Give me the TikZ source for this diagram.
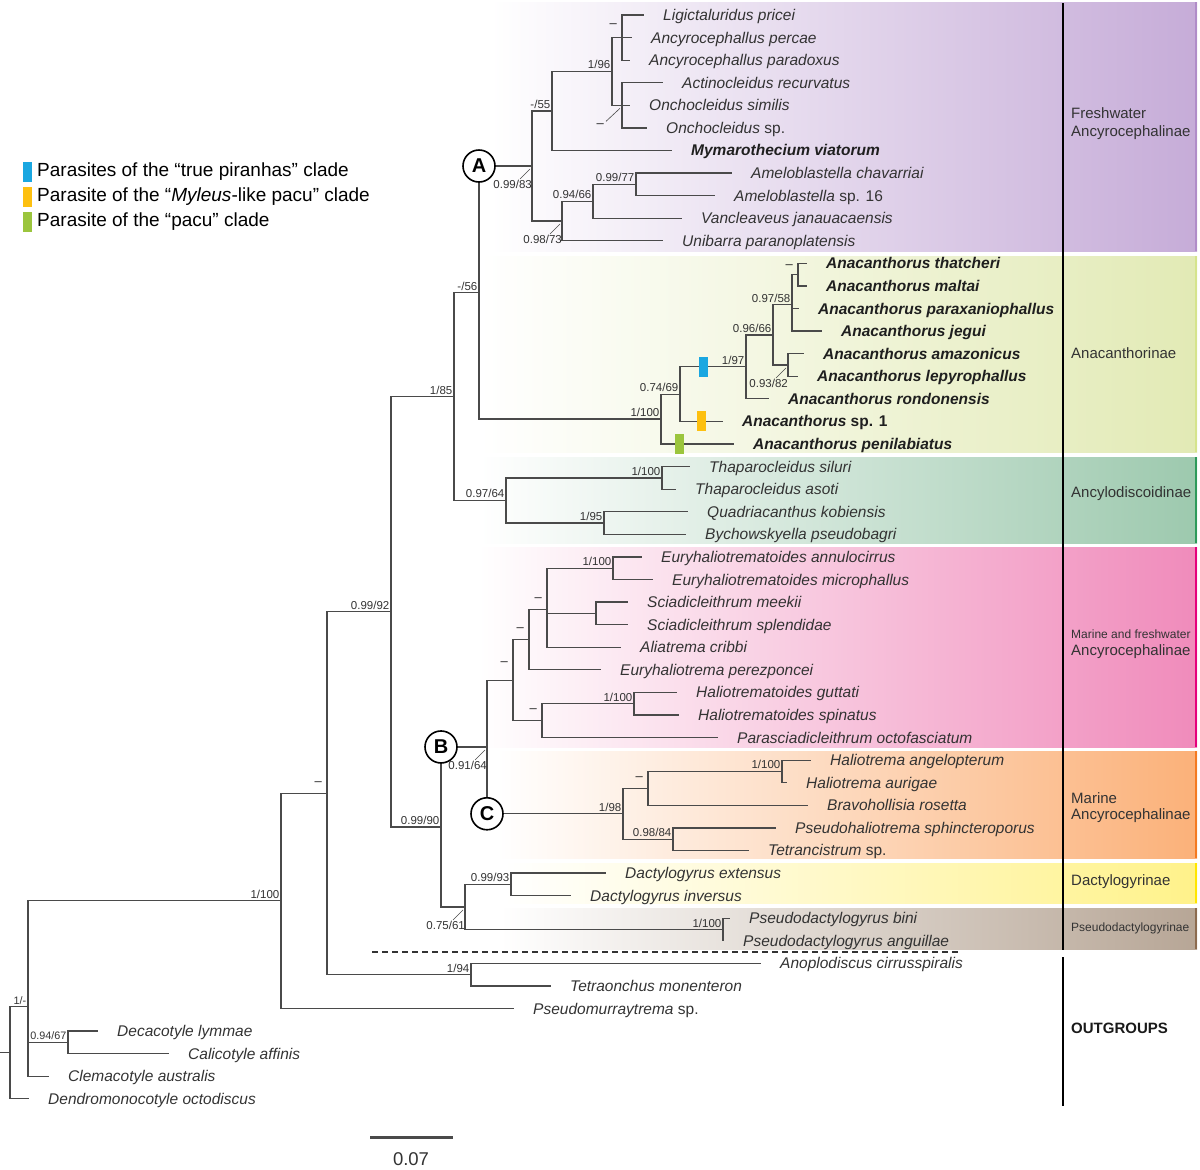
\documentclass[tikz,border=0pt]{standalone}
\usepackage{fontspec}
\setmainfont{Liberation Sans}
\usetikzlibrary{calc}
\definecolor{treeline}{HTML}{4A4A4A}
\definecolor{txt}{HTML}{333333}
\definecolor{purR}{HTML}{C6ACD8}
\definecolor{purE}{HTML}{B08CC8}
\definecolor{limR}{HTML}{E2EAB5}
\definecolor{limE}{HTML}{D5E48C}
\definecolor{tealR}{HTML}{9DC9AE}
\definecolor{tealE}{HTML}{2E9A5A}
\definecolor{pinkR}{HTML}{F08BBB}
\definecolor{pinkE}{HTML}{E5007D}
\definecolor{oraR}{HTML}{FBB179}
\definecolor{oraE}{HTML}{F47A20}
\definecolor{yelR}{HTML}{FFF28A}
\definecolor{yelE}{HTML}{FFE600}
\definecolor{broR}{HTML}{B7A696}
\definecolor{broE}{HTML}{8C6B4F}
\definecolor{mkblue}{HTML}{1AA7E1}
\definecolor{mkorange}{HTML}{FDC010}
\definecolor{mkgreen}{HTML}{9BC53D}
\tikzset{
  br/.style={draw=treeline, line width=1.25pt},
  leafname/.style={anchor=base west, yshift=-5.5pt, inner sep=0pt, text=txt,
    font=\fontsize{15.5}{18}\selectfont\itshape},
  boldleaf/.style={leafname, text=black!88, font=\fontsize{15.5}{18}\selectfont\bfseries\itshape},
  supbase/.style={inner sep=0pt, text=txt, font=\fontsize{11.5}{13}\selectfont},
  supp/.style={supbase, anchor=base east, xshift=-1.5pt, yshift=2.5pt},
  supb/.style={supbase, anchor=north east},
  dashlab/.style={inner sep=0pt, anchor=east, text=black!85, font=\fontsize{13}{14}\selectfont},
  leader/.style={draw=treeline, line width=0.6pt},
  circ/.style={circle, draw=black, line width=1.6pt, fill=white, minimum size=32pt,
    inner sep=0pt, font=\fontsize{20}{22}\selectfont\bfseries},
  mkbar/.style={rectangle, minimum width=9pt, minimum height=20pt, inner sep=0pt, draw=none},
  grp/.style={anchor=west, inner sep=0pt, text=txt, font=\fontsize{15}{17}\selectfont},
  grpsmall/.style={anchor=west, inner sep=0pt, text=txt, font=\fontsize{12}{14}\selectfont},
  legtext/.style={anchor=west, inner sep=0pt, text=black, font=\fontsize{19}{21}\selectfont},
}
\newcommand\leafnode[5][leafname]{%
  \coordinate (#2) at (#3,{15+22.58*(#4)});
  \node[#1] (#2t) at ($(#2)+(19,0)$) {#5};}
\newcommand\supl[2]{\node[supp] (#1-l) at (#1) {#2};}
\newcommand\dashl[2][10]{\node[dashlab] (#2-l) at ($(#2)+(-5,-#1)$) {–};}
\newcommand\leadl[2]{\node[supb] (#1-l) at ($(#1)+(0,14)$) {#2};
  \draw[leader] ($(#1)+(-12,13)$) -- ($(#1)+(-2,3)$);}
\begin{document}
\begin{tikzpicture}[x=1pt,y=-1pt]
\useasboundingbox (0,0) rectangle (1200,1170);
% ---------- background bands ----------
\fill[left color=white, right color=purR] (490,2) rectangle (1197,251);
\fill[left color=white, right color=limR] (480,256) rectangle (1197,452);
\fill[left color=white, right color=tealR] (480,457) rectangle (1197,543);
\fill[left color=white, right color=pinkR] (478,547) rectangle (1197,747);
\fill[left color=white, right color=oraR] (497,751) rectangle (1197,858);
\fill[left color=white, right color=yelR] (505,863) rectangle (1197,903);
\fill[left color=white, right color=broR] (500,908) rectangle (1197,949);
\draw[purE, line width=2pt] (1196,2) -- (1196,251);
\draw[limE, line width=2pt] (1196,256) -- (1196,452);
\draw[tealE, line width=2pt] (1196,457) -- (1196,543);
\draw[pinkE, line width=2pt] (1196,547) -- (1196,747);
\draw[oraE, line width=2pt] (1196,751) -- (1196,858);
\draw[yelE, line width=2pt] (1196,863) -- (1196,903);
\draw[broE, line width=2pt] (1196,908) -- (1196,949);
% column separator
\coordinate (cs1) at (1063,3); \coordinate (cs2) at (1063,256);
\coordinate (cs3) at (1063,452); \coordinate (cs4) at (1063,950);
\coordinate (cs5) at (1063,957); \coordinate (cs6) at (1063,1106);
\draw[black, line width=1.3pt] (cs1) -- (cs2);
\draw[black, line width=2.6pt] (cs2) -- (cs3);
\draw[black, line width=1.3pt] (cs3) -- (cs4);
\draw[black, line width=1.3pt] (cs5) -- (cs6);
% ---------- leaves ----------
\leafnode{lig}{644}{0}{Ligictaluridus pricei}
\leafnode{perc}{632}{1}{Ancyrocephallus percae}
\leafnode{para}{630}{2}{Ancyrocephallus paradoxus}
\leafnode{actin}{663}{3}{Actinocleidus recurvatus}
\leafnode{osim}{630}{4}{Onchocleidus similis}
\leafnode{osp}{647}{5}{Onchocleidus\upshape\ sp.}
\leafnode[boldleaf]{mym}{672}{6}{Mymarothecium viatorum}
\leafnode{amch}{732}{7}{Ameloblastella chavarriai}
\leafnode{amsx}{715}{8}{Ameloblastella\upshape\ sp. 16}
\leafnode{vanc}{682}{9}{Vancleaveus janauacaensis}
\leafnode{unib}{663}{10}{Unibarra paranoplatensis}
\leafnode[boldleaf]{that}{807}{11}{Anacanthorus thatcheri}
\leafnode[boldleaf]{malt}{807}{12}{Anacanthorus maltai}
\leafnode[boldleaf]{parx}{799}{13}{Anacanthorus paraxaniophallus}
\leafnode[boldleaf]{jeg}{822}{14}{Anacanthorus jegui}
\leafnode[boldleaf]{amaz}{804}{15}{Anacanthorus amazonicus}
\leafnode[boldleaf]{lepy}{798}{16}{Anacanthorus lepyrophallus}
\leafnode[boldleaf]{rond}{769}{17}{Anacanthorus rondonensis}
\leafnode[boldleaf]{spone}{723}{18}{Anacanthorus\upshape\ sp. 1}
\leafnode[boldleaf]{peni}{734}{19}{Anacanthorus penilabiatus}
\leafnode{silu}{690}{20}{Thaparocleidus siluri}
\leafnode{asot}{676}{21}{Thaparocleidus asoti}
\leafnode{quad}{688}{22}{Quadriacanthus kobiensis}
\leafnode{bych}{686}{23}{Bychowskyella pseudobagri}
\leafnode{annu}{642}{24}{Euryhaliotrematoides annulocirrus}
\leafnode{micr}{653}{25}{Euryhaliotrematoides microphallus}
\leafnode{meek}{628}{26}{Sciadicleithrum meekii}
\leafnode{sple}{628}{27}{Sciadicleithrum splendidae}
\leafnode{crib}{621}{28}{Aliatrema cribbi}
\leafnode{pere}{601}{29}{Euryhaliotrema perezponcei}
\leafnode{gutt}{677}{30}{Haliotrematoides guttati}
\leafnode{spin}{679}{31}{Haliotrematoides spinatus}
\leafnode{octo}{718}{32}{Parasciadicleithrum octofasciatum}
\leafnode{ange}{811}{33}{Haliotrema angelopterum}
\leafnode{auri}{787}{34}{Haliotrema aurigae}
\leafnode{rose}{808}{35}{Bravohollisia rosetta}
\leafnode{sphi}{776}{36}{Pseudohaliotrema sphincteroporus}
\leafnode{tetr}{749}{37}{Tetrancistrum\upshape\ sp.}
\leafnode{dext}{606}{38}{Dactylogyrus extensus}
\leafnode{dinv}{571}{39}{Dactylogyrus inversus}
\leafnode{bini}{730}{40}{Pseudodactylogyrus bini}
\leafnode{angu}{724}{41}{Pseudodactylogyrus anguillae}
\leafnode{anop}{761}{42}{Anoplodiscus cirrusspiralis}
\leafnode{tetm}{551}{43}{Tetraonchus monenteron}
\leafnode{psmu}{514}{44}{Pseudomurraytrema\upshape\ sp.}
\leafnode{deca}{98}{45}{Decacotyle lymmae}
\leafnode{cali}{169}{46}{Calicotyle affinis}
\leafnode{clem}{49}{47}{Clemacotyle australis}
\leafnode{dend}{29}{48}{Dendromonocotyle octodiscus}
% ---------- internal nodes ----------
\coordinate (nLig) at (622,37.58);
\coordinate (nOnc) at (622,105.32);
\coordinate (n196) at (612,71.45);
\coordinate (n55) at (552,110.97);
\coordinate (nAm) at (636,184.35);
\coordinate (n9466) at (593,201.29);
\coordinate (n9873) at (562,221.05);
\coordinate (nA) at (532,166.01);
\coordinate (nTM) at (798,274.67);
\coordinate (n9758) at (792,304.78);
\coordinate (nAL) at (788,364.99);
\coordinate (n9666) at (773,334.89);
\coordinate (n197) at (746,366.87);
\coordinate (n7469) at (680,394.16);
\coordinate (n1100a) at (661,419.09);
\coordinate (n56) at (479,292.55);
\coordinate (nTh) at (662,477.89);
\coordinate (nQB) at (604,523.05);
\coordinate (n9764) at (506,500.47);
\coordinate (n185) at (454,396.51);
\coordinate (nEu) at (613,568.21);
\coordinate (nSc) at (596,613.37);
\coordinate (nPa) at (547,609.61);
\coordinate (nPb) at (529,639.72);
\coordinate (nHa) at (634,703.69);
\coordinate (nPc) at (542,720.63);
\coordinate (nMF) at (513,680.17);
\coordinate (nHl) at (782,771.43);
\coordinate (nPd) at (648,788.37);
\coordinate (n9884) at (673,839.17);
\coordinate (n198) at (623,813.77);
\coordinate (nB) at (487,746.97);
\coordinate (nDa) at (511,884.33);
\coordinate (nPs) at (723,929.49);
\coordinate (n7561) at (465,906.91);
\coordinate (n9990) at (441,826.94);
\coordinate (n9992) at (391,611.73);
\coordinate (n194) at (471,974.65);
\coordinate (nDash) at (327,793.19);
\coordinate (n1100b) at (281,900.86);
\coordinate (nDC) at (68,1042.39);
\coordinate (n1m) at (28,1006.5);
\coordinate (root) at (10,1052.67);
\coordinate (rootstub) at (0,1052.67);
% ---------- branches ----------
\foreach \p/\c in {nLig/lig,nLig/perc,nLig/para,nOnc/actin,nOnc/osim,nOnc/osp,
  n196/nLig,n196/nOnc,n55/n196,n55/mym,nAm/amch,nAm/amsx,n9466/nAm,n9466/vanc,
  n9873/n9466,n9873/unib,nA/n55,nA/n9873,n56/nA,n56/n1100a,
  nTM/that,nTM/malt,n9758/nTM,n9758/parx,n9758/jeg,nAL/amaz,nAL/lepy,
  n9666/n9758,n9666/nAL,n197/n9666,n197/rond,n7469/n197,n7469/spone,
  n1100a/n7469,n1100a/peni,nTh/silu,nTh/asot,nQB/quad,nQB/bych,
  n9764/nTh,n9764/nQB,n185/n56,n185/n9764,
  nEu/annu,nEu/micr,nSc/meek,nSc/sple,nPa/nEu,nPa/nSc,nPa/crib,nPb/nPa,nPb/pere,
  nHa/gutt,nHa/spin,nPc/nHa,nPc/octo,nMF/nPb,nMF/nPc,
  nHl/ange,nHl/auri,nPd/nHl,nPd/rose,n9884/sphi,n9884/tetr,n198/nPd,n198/n9884,
  nB/nMF,nB/n198,nDa/dext,nDa/dinv,nPs/bini,nPs/angu,n7561/nDa,n7561/nPs,
  n9990/nB,n9990/n7561,n9992/n185,n9992/n9990,n194/anop,n194/tetm,
  nDash/n9992,nDash/n194,n1100b/nDash,n1100b/psmu,nDC/deca,nDC/cali,
  n1m/n1100b,n1m/nDC,n1m/clem,root/n1m,root/dend}
  {\draw[br] (\p) |- (\c);}
\draw[br] (rootstub) -- (root);
% dashed separator
\coordinate (dsh1) at (372,952); \coordinate (dsh2) at (960,952);
\draw[black!80, line width=1.3pt, dash pattern=on 6pt off 4pt] (dsh1) -- (dsh2);
% ---------- support values ----------
\supl{n196}{1/96}
\supl{n55}{-/55}
\supl{nAm}{0.99/77}
\supl{n9466}{0.94/66}
\leadl{n9873}{0.98/73}
\leadl{nA}{0.99/83}
\dashl[12]{nLig}
\node[dashlab] (nOnc-l) at ($(nOnc)+(-18,20)$) {–};
\draw[leader] ($(nOnc)+(-16,16)$) -- ($(nOnc)+(-2,3)$);
\supl{n56}{-/56}
\dashl[8]{nTM}
\supl{n9758}{0.97/58}
\leadl{nAL}{0.93/82}
\supl{n9666}{0.96/66}
\supl{n197}{1/97}
\supl{n7469}{0.74/69}
\supl{n1100a}{1/100}
\supl{n185}{1/85}
\supl{nTh}{1/100}
\supl{nQB}{1/95}
\supl{n9764}{0.97/64}
\supl{nEu}{1/100}
\dashl{nPa}
\dashl{nPb}
\supl{nHa}{1/100}
\dashl{nPc}
\dashl[17]{nMF}
\supl{nHl}{1/100}
\dashl{nPd}
\supl{n9884}{0.98/84}
\supl{n198}{1/98}
\leadl{nB}{0.91/64}
\supl{nDa}{0.99/93}
\supl{nPs}{1/100}
\leadl{n7561}{0.75/61}
\supl{n9990}{0.99/90}
\supl{n9992}{0.99/92}
\supl{n194}{1/94}
\dashl{nDash}
\supl{n1100b}{1/100}
\node[supp, font=\fontsize{10.8}{12}\selectfont] (nDC-l) at (nDC) {0.94/67};
\node[supp, font=\fontsize{10.8}{12}\selectfont] (n1m-l) at (n1m) {1/-};
% ---------- clade circles ----------
\node[circ] (cA) at (n56 |- nA) {A};
\node[circ] (cB) at (n9990 |- nB) {B};
\node[circ] (cC) at (nB |- n198) {C};
% ---------- host markers ----------
\path (n197) ++(-42.5,0) node[mkbar, fill=mkblue] (barblue) {};
\path (spone) ++(-21.5,0) node[mkbar, fill=mkorange] (barorange) {};
\path (peni) ++(-55,0) node[mkbar, fill=mkgreen] (bargreen) {};
% ---------- legend ----------
\node[mkbar, fill=mkblue] (lgb) at (27.5,172) {};
\node[mkbar, fill=mkorange] (lgo) at (27.5,197) {};
\node[mkbar, fill=mkgreen] (lgg) at (27.5,222) {};
\node[legtext] (lgbt) at (37,172) {Parasites of the “true piranhas” clade};
\node[legtext] (lgot) at (37,197) {Parasite of the “\textit{Myleus}-like pacu” clade};
\node[legtext] (lggt) at (37,222) {Parasite of the “pacu” clade};
% ---------- group labels ----------
\node[grp] (g1a) at (1071,113) {Freshwater};
\node[grp] (g1b) at (1071,133) {Ancyrocephalinae};
\node[grp] (g2) at (1071,353) {Anacanthorinae};
\node[grp] (g3) at (1071,494) {Ancylodiscoidinae};
\node[grpsmall] (g4a) at (1071,634) {Marine and freshwater};
\node[grp] (g4b) at (1071,652) {Ancyrocephalinae};
\node[grp] (g5a) at (1071,798) {Marine};
\node[grp] (g5b) at (1071,816) {Ancyrocephalinae};
\node[grp] (g6) at (1071,882) {Dactylogyrinae};
\node[grpsmall] (g7) at (1071,928) {Pseudodactylogyrinae};
\node[grp, font=\fontsize{15}{17}\selectfont\bfseries, text=black!90] (g8) at (1071,1028) {OUTGROUPS};
% ---------- scale bar ----------
\coordinate (sb1) at (370,1137); \coordinate (sb2) at (453,1137);
\draw[treeline, line width=3pt] (sb1) -- (sb2);
\node[text=txt, inner sep=0pt, font=\fontsize{18.5}{20}\selectfont] (sbl) at (411,1159) {0.07};
\end{tikzpicture}
\end{document}
